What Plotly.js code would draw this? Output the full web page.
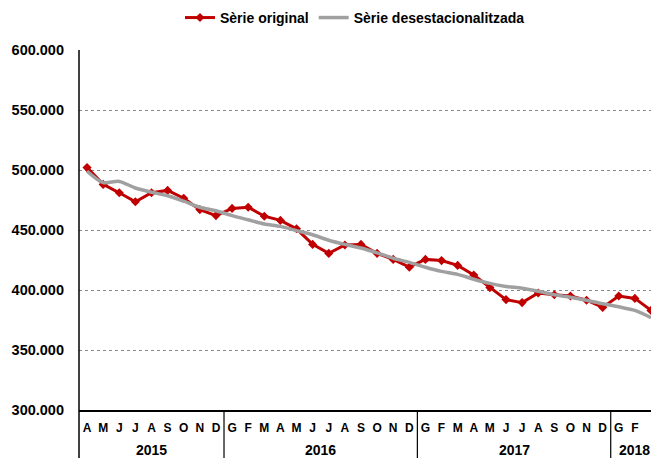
<!DOCTYPE html>
<html>
<head>
<meta charset="utf-8">
<script src="https://cdn.plot.ly/plotly-3.0.1.min.js"></script>
<style>html,body{margin:0;padding:0;background:#fff;overflow:hidden}#chart{width:651px;height:458px}</style>
</head>
<body>
<div id="chart"></div>
<script>
// Months from April 2015 to March 2018
const monthLabels = ["A","M","J","J","A","S","O","N","D",
  "G","F","M","A","M","J","J","A","S","O","N","D",
  "G","F","M","A","M","J","J","A","S","O","N","D",
  "G","F","M"];
const years = [2015,2015,2015,2015,2015,2015,2015,2015,2015,
  2016,2016,2016,2016,2016,2016,2016,2016,2016,2016,2016,2016,
  2017,2017,2017,2017,2017,2017,2017,2017,2017,2017,2017,2017,
  2018,2018,2018];
const serieOriginal = [502000,488000,481000,473500,481000,483000,476500,467000,462000,
  468000,469000,461500,458000,451000,438000,430500,437500,438000,430500,425500,419000,
  425500,424500,420500,412500,402000,392000,389500,397500,396000,395000,391500,385500,
  395000,393000,383000];
const serieDesest = [499000,489500,490500,485000,481500,478500,474000,469000,466000,
  462000,458500,455000,453000,449500,446000,441500,438000,435000,431000,426500,423000,
  419000,415500,413000,409000,405500,403000,401500,399000,396000,394000,391500,388500,
  386000,383000,377000];
const yTicks = [300000,350000,400000,450000,500000,550000,600000];

const idx = monthLabels.map((_, i) => i);
const FONT = "Liberation Sans, Arial, sans-serif";

// year groups
const groups = [];
years.forEach((y, i) => {
  if (!groups.length || groups[groups.length-1].year !== y) groups.push({year: y, start: i, end: i});
  else groups[groups.length-1].end = i;
});

const shapes = [{type:"line", xref:"paper", yref:"paper", x0:0, x1:0, y0:-0.15, y1:1,
  line:{color:"#000", width:1.5}}];
groups.slice(1).forEach(g => shapes.push({type:"line", xref:"x", yref:"paper",
  x0:g.start-0.5, x1:g.start-0.5, y0:-0.15, y1:0, line:{color:"#000", width:1.2}}));

const annotations = groups.map(g => ({xref:"x", yref:"paper", x:(g.start+g.end)/2, y:-0.112,
  text:String(g.year), showarrow:false, yanchor:"middle", xanchor:"center",
  font:{family:FONT, size:14, color:"#000", weight:"bold"}}));

const traces = [
  {x: idx, y: serieOriginal, name: "Sèrie original", type: "scatter", mode: "lines+markers",
   line: {color: "#c00000", width: 3}, marker: {symbol: "diamond", size: 7, color: "#c00000"}},
  {x: idx, y: serieDesest, name: "Sèrie desestacionalitzada", type: "scatter", mode: "lines",
   line: {color: "#a0a0a0", width: 3.5, shape: "spline", smoothing: 0.8}}
];

const layout = {
  width: 651, height: 458,
  margin: {l: 79, r: 0, t: 50, b: 48, pad: 0},
  paper_bgcolor: "#fff", plot_bgcolor: "#fff",
  separators: ",.",
  showlegend: true,
  legend: {orientation: "h", x: 0.4825, xanchor: "center", y: 1.089, yanchor: "middle",
    font: {family: FONT, size: 14, color: "#000", weight: "bold"}, itemwidth: 30, tracegroupgap: 0},
  xaxis: {range: [-0.5, 35.0], tickvals: idx, ticktext: monthLabels, tickangle: 0,
    showgrid: false, zeroline: false, showline: true, linecolor: "#000", linewidth: 1.5,
    ticks: "", ticklabelstandoff: 6,
    tickfont: {family: FONT, size: 12, color: "#000", weight: "bold"}, fixedrange: true},
  yaxis: {range: [300000, 600000], tickvals: yTicks, tickformat: ",.0f",
    showgrid: true, gridcolor: "#888", griddash: "dot", gridwidth: 1, zeroline: false,
    showline: false, ticks: "", ticklabelstandoff: 14,
    tickfont: {family: FONT, size: 14.5, color: "#000", weight: "bold"}},
  shapes: shapes,
  annotations: annotations
};

Plotly.newPlot("chart", traces, layout, {displayModeBar: false, staticPlot: true});
</script>
</body>
</html>
